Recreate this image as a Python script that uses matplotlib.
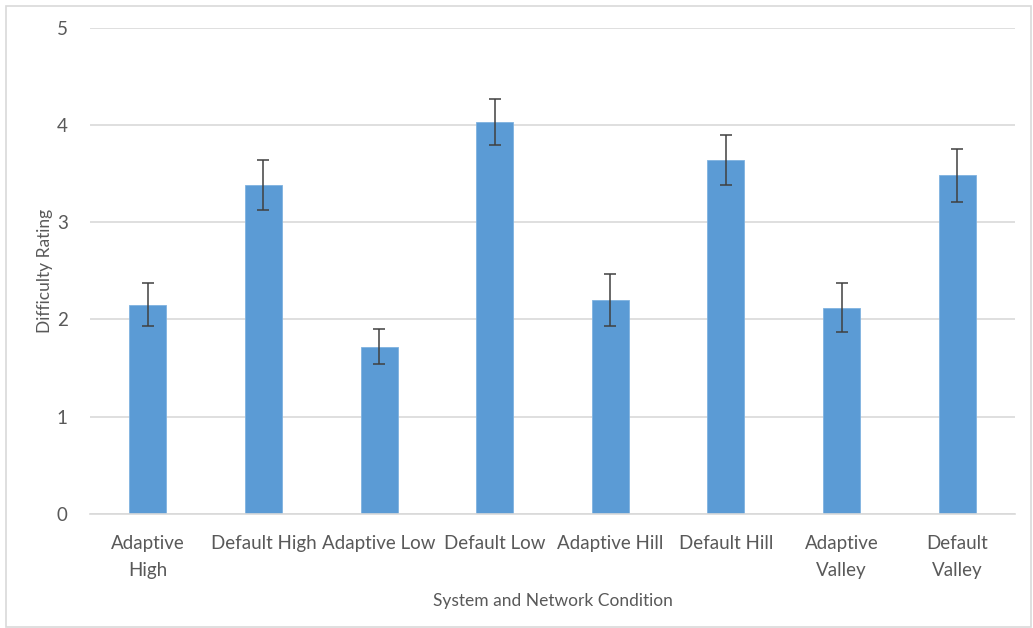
import matplotlib
matplotlib.use('Agg')
import matplotlib.pyplot as plt
from matplotlib.patches import Rectangle

conditions = ['Adaptive\nHigh', 'Default High', 'Adaptive Low', 'Default Low',
              'Adaptive Hill', 'Default Hill', 'Adaptive\nValley', 'Default\nValley']
ratings = [2.15, 3.38, 1.72, 4.03, 2.20, 3.64, 2.12, 3.48]
errors = [0.22, 0.255, 0.18, 0.24, 0.27, 0.26, 0.255, 0.27]
yticks = [0, 1, 2, 3, 4, 5]

plt.rcParams['font.family'] = ['Lato', 'DejaVu Sans']
text_color = '#595959'

fig = plt.figure(figsize=(10.33, 6.28), dpi=100)
ax = fig.add_axes([0.0871, 0.182, 0.8955, 0.7739])

x = list(range(len(conditions)))
ax.bar(x, ratings, width=0.32, color='#5B9BD5', edgecolor='#7FB2E0', linewidth=0.6, zorder=2)
ax.errorbar(x, ratings, yerr=errors, fmt='none', ecolor='#404040', elinewidth=1.1,
            capsize=4.5, capthick=1.1, zorder=3)

ax.set_xlim(-0.5, 7.5)
ax.set_ylim(0, 5)
ax.set_yticks(yticks)
ax.set_xticks(x)
ax.set_xticklabels(conditions, fontsize=13.5, color=text_color, linespacing=1.75)
ax.tick_params(axis='y', labelsize=13.5, labelcolor=text_color, length=0, pad=16)
ax.tick_params(axis='x', length=0, pad=15)
ax.grid(axis='y', color='#D9D9D9', linewidth=1.2, zorder=0)
ax.set_axisbelow(True)
for s in ['top', 'right', 'left']:
    ax.spines[s].set_visible(False)
ax.spines['bottom'].set_color('#D9D9D9')
ax.spines['bottom'].set_linewidth(1.2)

ax.set_ylabel('Difficulty Rating', fontsize=12.5, color=text_color, labelpad=3)
ax.set_xlabel('System and Network Condition', fontsize=12.5, color=text_color, labelpad=10)

# outer chart border
fig.patches.append(Rectangle((6 / 1033, 1 / 628), 1025 / 1033, 621 / 628,
                             transform=fig.transFigure, fill=False,
                             edgecolor='#D9D9D9', linewidth=1.2))

fig.savefig('out.png', dpi=100)
